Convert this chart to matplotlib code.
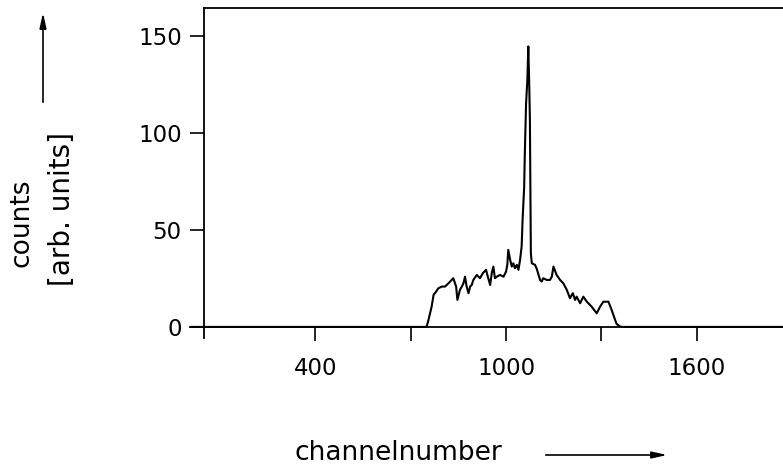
import numpy as np
import matplotlib
matplotlib.use('Agg')
import matplotlib.pyplot as plt

# spectrum (channel, counts)
channel = [6, 50, 750, 756, 766, 772, 780, 787, 798, 808, 819, 834, 843, 847, 855, 861,
           866, 871, 876, 882, 887, 892, 897, 908, 918, 927, 937, 944, 950, 955,
           960, 965, 971, 981, 992, 1000, 1004, 1007, 1013, 1018, 1023, 1028, 1034,
           1039, 1044, 1049, 1052, 1057, 1059, 1063, 1067, 1070, 1073, 1075, 1078,
           1081, 1091, 1096, 1107, 1112, 1117, 1128, 1138, 1144, 1149, 1159, 1170,
           1180, 1191, 1201, 1210, 1217, 1222, 1233, 1238, 1243, 1254, 1269, 1285,
           1296, 1306, 1322, 1332, 1343, 1348, 1358, 1364, 1871]
counts = [0, 0, 0, 3.6, 10.5, 16.5, 18.2, 19.9, 20.8, 20.8, 22.5, 25.1, 20.8, 13.9, 19.1, 20.8,
          22.5, 25.9, 20.8, 17.4, 20.8, 21.6, 24.2, 26.8, 25.1, 27.7, 29.4, 25.1, 21.6, 27.7,
          31.1, 25.1, 25.9, 26.8, 25.9, 28.5, 32.0, 39.7, 34.5, 31.1, 32.8, 30.2, 32.0,
          29.4, 34.5, 41.4, 55.2, 72.3, 89.5, 115.3, 127.3, 144.5, 123.9, 106.7, 38.0,
          32.8, 32.0, 30.2, 24.2, 23.4, 25.1, 24.2, 24.2, 25.9, 31.1, 26.8, 24.2,
          22.5, 19.1, 14.8, 17.4, 13.9, 15.6, 12.2, 13.9, 15.6, 13.0, 10.5, 7.0,
          10.5, 13.0, 13.0, 8.8, 3.6, 1.5, 0.3, 0, 0]

xticks = [400, 700, 1000, 1300, 1600]
xticklabels = ['400', '', '1000', '', '1600']
yticks = [0, 50, 100, 150]

W, H = 783, 466
plt.rcParams['font.family'] = ['DejaVu Sans']
fig = plt.figure(figsize=(W / 100, H / 100), dpi=100)

# axes box in pixels: x 190..783, y 8..338
ax = fig.add_axes([190 / W, 1 - 338 / H, 1 - 190 / W, (338 - 8) / H])
ax.plot(channel, counts, color='black', lw=1.5)
ax.set_xlim(6, 1871)
ax.set_ylim(-5.7, 164.3)

ax.spines['left'].set_position(('data', 50))
ax.spines['bottom'].set_position(('data', 0))
ax.spines['right'].set_visible(False)
ax.spines['top'].set_bounds(50, 1871)
for s in ax.spines.values():
    s.set_linewidth(1.3)

ax.set_xticks(xticks)
ax.set_xticklabels(xticklabels)
ax.set_yticks(yticks)
ax.tick_params(axis='x', direction='out', length=10, width=1.2, pad=12, labelsize=16.5)
ax.tick_params(axis='y', direction='out', length=10, width=1.2, pad=6, labelsize=16.5)

fig.text(22 / W, 1 - 223 / H, 'counts', rotation=90, ha='center', va='center', fontsize=19)
fig.text(62 / W, 1 - 209 / H, '[arb. units]', rotation=90, ha='center', va='center', fontsize=20)
fig.text(295 / W, 1 - 453 / H, 'channelnumber', ha='left', va='center', fontsize=19)

arrow = dict(arrowstyle='-|>,head_length=0.9,head_width=0.2', color='black', lw=1.2)
ax.annotate('', xy=(43 / W, 1 - 10 / H), xytext=(43 / W, 1 - 105 / H),
            xycoords='figure fraction', textcoords='figure fraction', arrowprops=arrow)
ax.annotate('', xy=(670 / W, 1 - 455 / H), xytext=(543 / W, 1 - 455 / H),
            xycoords='figure fraction', textcoords='figure fraction', arrowprops=arrow)

fig.savefig('out.png', dpi=100)
